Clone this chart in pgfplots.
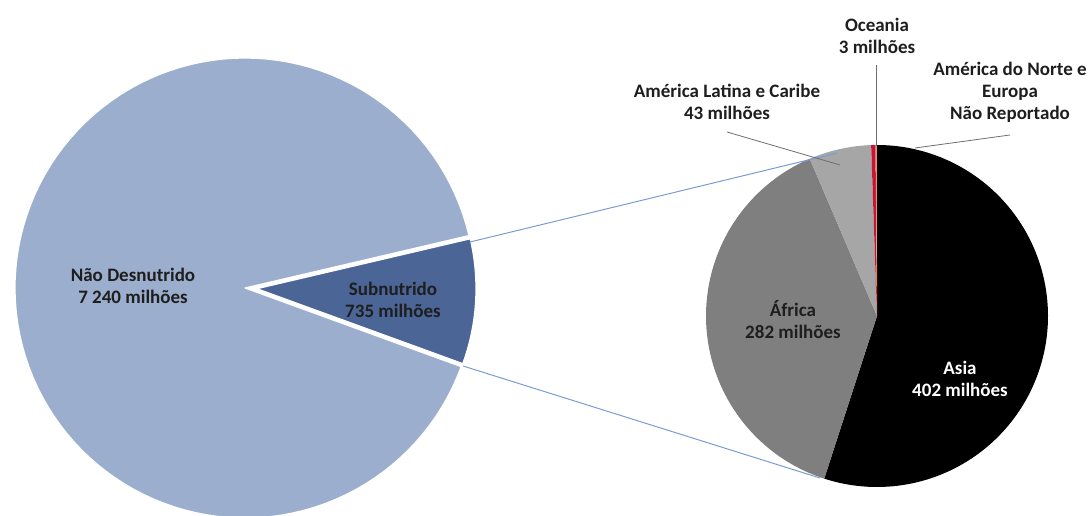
\documentclass[border=0pt]{standalone}
\usepackage{fontspec}
\setmainfont{Carlito}
\usepackage{pgfplots}
\usepackage{pgfplotstable}
\pgfplotsset{compat=1.18}

\definecolor{lightblue}{RGB}{155,174,205}
\definecolor{darkblue}{RGB}{74,101,150}
\definecolor{asiaC}{RGB}{0,0,0}
\definecolor{africaC}{RGB}{127,127,127}
\definecolor{latamC}{RGB}{166,166,166}
\definecolor{oceaniaC}{RGB}{200,20,60}
\definecolor{naC}{RGB}{235,160,50}
\definecolor{connC}{RGB}{125,155,210}
\definecolor{leadC}{RGB}{110,110,110}
\definecolor{txt}{RGB}{30,30,30}

\tikzset{lab/.style={font=\bfseries\fontsize{19}{22}\selectfont, text=txt, align=center, inner sep=0pt}}

% main pie (milhões)
\pgfplotstableread{
label value
NaoDesnutrido 7240
Subnutrido 735
}\maintable
% secondary pie (milhões)
\pgfplotstableread{
label value
Asia 402
Africa 282
LatAm 43
Oceania 3
NAEuropa 1
}\subtable

\pgfplotstablegetelem{0}{value}\of\maintable \let\vND\pgfplotsretval
\pgfplotstablegetelem{1}{value}\of\maintable \let\vSN\pgfplotsretval
\pgfplotstablegetelem{0}{value}\of\subtable \let\vAs\pgfplotsretval
\pgfplotstablegetelem{1}{value}\of\subtable \let\vAf\pgfplotsretval
\pgfplotstablegetelem{2}{value}\of\subtable \let\vLA\pgfplotsretval
\pgfplotstablegetelem{3}{value}\of\subtable \let\vOc\pgfplotsretval
\pgfplotstablegetelem{4}{value}\of\subtable \let\vNA\pgfplotsretval

% main pie angles
\pgfmathsetmacro\Tmain{\vND+\vSN}
\pgfmathsetmacro\snA{-20}
\pgfmathsetmacro\snB{-20+(\vSN/\Tmain)*360}
\pgfmathsetmacro\ndB{340}
\pgfmathsetmacro\snMid{(\snA+\snB)/2}
\pgfmathsetmacro\snCx{245+12*cos(\snMid)}
\pgfmathsetmacro\snCy{228+12*sin(\snMid)}
% secondary pie angles (clockwise from 90)
\pgfmathsetmacro\Tsub{\vAs+\vAf+\vLA+\vOc+\vNA}
\pgfmathsetmacro\aA{90}
\pgfmathsetmacro\aB{\aA-(\vAs/\Tsub)*360}
\pgfmathsetmacro\aC{\aB-(\vAf/\Tsub)*360}
\pgfmathsetmacro\aD{\aC-(\vLA/\Tsub)*360}
\pgfmathsetmacro\aE{\aD-(\vOc/\Tsub)*360}
\pgfmathsetmacro\aF{\aE-(\vNA/\Tsub)*360}

% pie slice: cx, cy, r, angle from, angle to, style
\newcommand\pieslice[6]{%
  \addplot[#6, domain=#4:#5, samples=120, variable=\t]
    ({#1+#3*cos(\t)},{#2+#3*sin(\t)}) -- (axis cs:#1,#2) -- cycle;}

\begin{document}
\begin{tikzpicture}
\begin{axis}[
  x=1pt, y=1pt,
  xmin=0, xmax=1090, ymin=0, ymax=516,
  hide axis, clip=false,
]
\coordinate (SW) at (axis cs:0,0);
\coordinate (NE) at (axis cs:1090,516);

% main pie
\pieslice{245}{228}{230}{\snB}{\ndB}{fill=lightblue, draw=white, line width=1.2pt, line join=round}
\pieslice{\snCx}{\snCy}{219}{\snA}{\snB}{fill=darkblue, draw=white, line width=1.2pt, line join=round}

% secondary pie
\pieslice{877}{200}{171}{\aB}{\aA}{fill=asiaC, draw=none}
\pieslice{877}{200}{171}{\aC}{\aB}{fill=africaC, draw=none}
\pieslice{877}{200}{171}{\aD}{\aC}{fill=latamC, draw=none}
\pieslice{877}{200}{171}{\aE}{\aD}{fill=oceaniaC, draw=none}
\pieslice{877}{200}{171}{\aF}{\aE}{fill=naC, draw=none}

% connector lines
\addplot[connC, line width=1pt] coordinates {(470,274) (837,363)};
\addplot[connC, line width=1pt] coordinates {(463,150) (820,38)};

% leader lines
\addplot[leadC, line width=0.8pt] coordinates {(727,384) (840,351)};
\addplot[leadC, line width=0.8pt] coordinates {(876,451) (876,370)};
\addplot[leadC, line width=0.8pt] coordinates {(1010,381) (915,368)};

% labels
\node[lab] at (axis cs:133,230) {Não Desnutrido\\7 240 milhões};
\node[lab] at (axis cs:393,216.5) {Subnutrido\\735 milhões};
\node[lab] at (axis cs:793,196) {África\\282 milhões};
\node[lab, text=white] at (axis cs:960,137) {Asia\\402 milhões};
\node[lab] at (axis cs:727,414) {América Latina e Caribe\\43 milhões};
\node[lab] at (axis cs:877,480) {Oceania\\3 milhões};
\node[lab] at (axis cs:1010,423.5) {América do Norte e\\Europa\\Não Reportado};
\end{axis}
\pgfresetboundingbox
\path (SW) rectangle (NE);
\end{tikzpicture}
\end{document}
